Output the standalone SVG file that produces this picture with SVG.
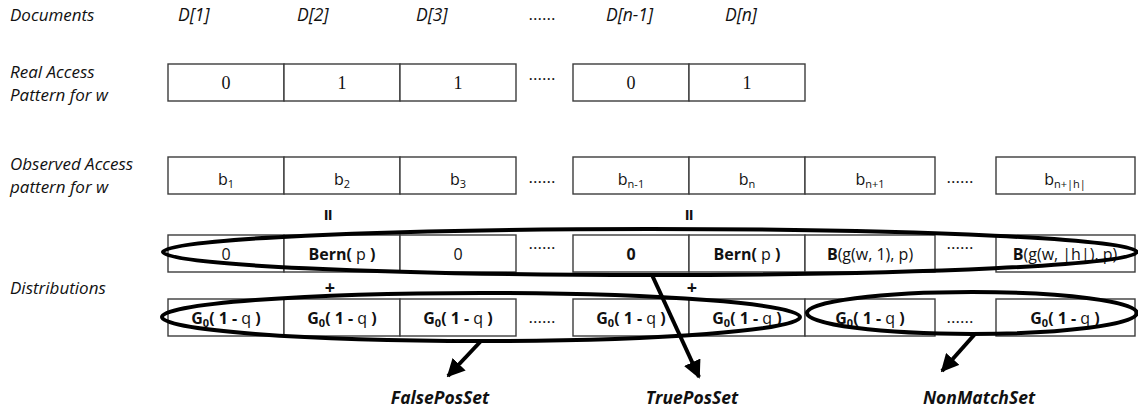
<svg xmlns="http://www.w3.org/2000/svg" width="1138" height="410" viewBox="0 0 1138 410">
<style>
.lbl{font-family:"Open Sans","Liberation Sans",sans-serif;font-style:italic;font-size:17px;fill:#111}
.hdr{font-family:"Open Sans","Liberation Sans",sans-serif;font-style:italic;font-size:17.5px;fill:#111}
.cell{fill:#fff;stroke:#3c3c3c;stroke-width:1.4}
.num{font-family:"Liberation Serif","DejaVu Serif",serif;font-size:18px;fill:#111;text-anchor:middle}
.t{font-family:"Open Sans","Liberation Sans",sans-serif;font-size:16px;fill:#111;text-anchor:middle}
.b{font-weight:bold}
.dots{font-family:"Open Sans","Liberation Sans",sans-serif;font-size:17px;fill:#111;text-anchor:middle}
.sub{font-size:11px}
.oval{fill:none;stroke:#000;stroke-width:4}
.arr{fill:none;stroke:#000;stroke-width:4}
.set{font-family:"Open Sans","Liberation Sans",sans-serif;font-style:italic;font-weight:bold;font-size:17.5px;fill:#111;text-anchor:middle}
.sym{font-family:"Open Sans","Liberation Sans",sans-serif;font-size:18px;font-weight:bold;fill:#111;text-anchor:middle}
.eq{font-family:"Open Sans","Liberation Sans",sans-serif;font-size:21px;font-weight:bold;fill:#111;text-anchor:middle}
</style>
<defs>
<marker id="ah" markerUnits="userSpaceOnUse" markerWidth="18" markerHeight="18" viewBox="0 0 10 10" refX="9" refY="5" orient="auto">
<path d="M0,0 L10,5 L0,10 z" fill="#000"/>
</marker>
</defs>

<g id="row-labels">
<text class="lbl" x="10" y="21">Documents</text>
<text class="lbl" x="10" y="78">Real Access</text>
<text class="lbl" x="10" y="101">Pattern for w</text>
<text class="lbl" x="10" y="170">Observed Access</text>
<text class="lbl" x="10" y="193">pattern for w</text>
<text class="lbl" x="10" y="294">Distributions</text>
</g>

<g id="doc-headers">
<text class="hdr" x="178" y="21">D[1]</text>
<text class="hdr" x="297" y="21">D[2]</text>
<text class="hdr" x="416" y="21">D[3]</text>
<text class="dots" x="542" y="20">......</text>
<text class="hdr" x="606" y="21">D[n-1]</text>
<text class="hdr" x="725" y="21">D[n]</text>
</g>

<g id="real-access">
<rect class="cell" x="168" y="64" width="116" height="37"/>
<rect class="cell" x="284" y="64" width="116" height="37"/>
<rect class="cell" x="400" y="64" width="116" height="37"/>
<rect class="cell" x="573" y="64" width="116" height="37"/>
<rect class="cell" x="689" y="64" width="116" height="37"/>
<text class="num" x="226" y="89">0</text>
<text class="num" x="342" y="89">1</text>
<text class="num" x="458" y="89">1</text>
<text class="dots" x="542" y="80">......</text>
<text class="num" x="631" y="89">0</text>
<text class="num" x="747" y="89">1</text>
</g>

<g id="observed-access">
<rect class="cell" x="168" y="157" width="116" height="37"/>
<rect class="cell" x="284" y="157" width="116" height="37"/>
<rect class="cell" x="400" y="157" width="116" height="37"/>
<rect class="cell" x="573" y="157" width="116" height="37"/>
<rect class="cell" x="689" y="157" width="116" height="37"/>
<rect class="cell" x="805" y="157" width="130" height="37"/>
<rect class="cell" x="996" y="157" width="139" height="37"/>
<text class="t" x="226" y="185">b<tspan class="sub" dy="3">1</tspan></text>
<text class="t" x="342" y="185">b<tspan class="sub" dy="3">2</tspan></text>
<text class="t" x="458" y="185">b<tspan class="sub" dy="3">3</tspan></text>
<text class="dots" x="542" y="183">......</text>
<text class="t" x="631" y="185">b<tspan class="sub" dy="3">n-1</tspan></text>
<text class="t" x="747" y="185">b<tspan class="sub" dy="3">n</tspan></text>
<text class="t" x="870" y="185">b<tspan class="sub" dy="3">n+1</tspan></text>
<text class="dots" x="960" y="183">......</text>
<text class="t" x="1065" y="185">b<tspan class="sub" dy="3">n+|h|</tspan></text>
</g>

<g id="equals">
<text class="eq" transform="translate(328,215) rotate(90)" y="7">=</text>
<text class="eq" transform="translate(689,215) rotate(90)" y="7">=</text>
</g>

<g id="dist-upper">
<rect class="cell" x="168" y="235" width="116" height="37"/>
<rect class="cell" x="284" y="235" width="116" height="37"/>
<rect class="cell" x="400" y="235" width="116" height="37"/>
<rect class="cell" x="573" y="235" width="116" height="37"/>
<rect class="cell" x="689" y="235" width="116" height="37"/>
<rect class="cell" x="805" y="235" width="130" height="37"/>
<rect class="cell" x="996" y="235" width="139" height="37"/>
<text class="t" x="226" y="260">0</text>
<text class="t" x="342" y="260"><tspan class="b">Bern(</tspan> p <tspan class="b">)</tspan></text>
<text class="t" x="458" y="260">0</text>
<text class="dots" x="542" y="249">......</text>
<text class="t b" x="631" y="260">0</text>
<text class="t" x="747" y="260"><tspan class="b">Bern(</tspan> p <tspan class="b">)</tspan></text>
<text class="t" x="870" y="260"><tspan class="b">B</tspan>(g(w, 1), p)</text>
<text class="dots" x="960" y="249">......</text>
<text class="t" x="1065" y="260"><tspan class="b">B</tspan>(g(w, |h|), p)</text>
</g>

<g id="plus">
<text class="sym" x="330" y="294">+</text>
<text class="sym" x="692" y="294">+</text>
</g>

<g id="dist-lower">
<rect class="cell" x="168" y="299" width="116" height="37"/>
<rect class="cell" x="284" y="299" width="116" height="37"/>
<rect class="cell" x="400" y="299" width="116" height="37"/>
<rect class="cell" x="573" y="299" width="116" height="37"/>
<rect class="cell" x="689" y="299" width="116" height="37"/>
<rect class="cell" x="805" y="299" width="130" height="37"/>
<rect class="cell" x="996" y="299" width="139" height="37"/>
<text class="t" x="226" y="324"><tspan class="b">G<tspan class="sub" dy="3">0</tspan><tspan dy="-3">( 1 -</tspan></tspan> q <tspan class="b">)</tspan></text>
<text class="t" x="342" y="324"><tspan class="b">G<tspan class="sub" dy="3">0</tspan><tspan dy="-3">( 1 -</tspan></tspan> q <tspan class="b">)</tspan></text>
<text class="t" x="458" y="324"><tspan class="b">G<tspan class="sub" dy="3">0</tspan><tspan dy="-3">( 1 -</tspan></tspan> q <tspan class="b">)</tspan></text>
<text class="dots" x="542" y="323">......</text>
<text class="t" x="631" y="324"><tspan class="b">G<tspan class="sub" dy="3">0</tspan><tspan dy="-3">( 1 -</tspan></tspan> q <tspan class="b">)</tspan></text>
<text class="t" x="747" y="324"><tspan class="b">G<tspan class="sub" dy="3">0</tspan><tspan dy="-3">( 1 -</tspan></tspan> q <tspan class="b">)</tspan></text>
<text class="t" x="870" y="324"><tspan class="b">G<tspan class="sub" dy="3">0</tspan><tspan dy="-3">( 1 -</tspan></tspan> q <tspan class="b">)</tspan></text>
<text class="dots" x="960" y="323">......</text>
<text class="t" x="1065" y="324"><tspan class="b">G<tspan class="sub" dy="3">0</tspan><tspan dy="-3">( 1 -</tspan></tspan> q <tspan class="b">)</tspan></text>
</g>

<g id="groups">
<ellipse id="truepos-oval" class="oval" cx="650" cy="252" rx="487" ry="23"/>
<ellipse id="falsepos-oval" class="oval" cx="481" cy="317" rx="319" ry="24"/>
<ellipse id="nonmatch-oval" class="oval" cx="972" cy="313" rx="165" ry="21"/>
</g>

<g id="connectors">
<line class="arr" x1="481" y1="341" x2="448" y2="376" marker-end="url(#ah)"/>
<line class="arr" x1="652" y1="275" x2="699" y2="377" marker-end="url(#ah)"/>
<line class="arr" x1="975" y1="334" x2="942" y2="371" marker-end="url(#ah)"/>
</g>

<g id="set-labels">
<text class="set" x="440" y="404">FalsePosSet</text>
<text class="set" x="692" y="404">TruePosSet</text>
<text class="set" x="979" y="404">NonMatchSet</text>
</g>
</svg>
